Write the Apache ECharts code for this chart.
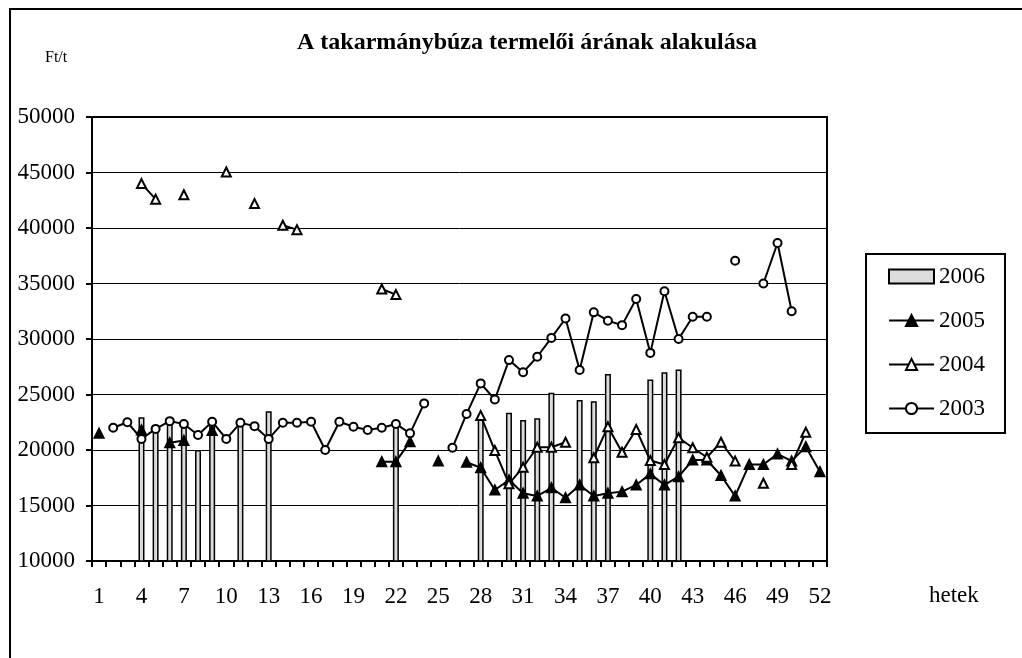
<!DOCTYPE html>
<html>
<head>
<meta charset="utf-8">
<script src="https://cdn.jsdelivr.net/npm/echarts@6/dist/echarts.min.js"></script>
<style>
  html, body { margin: 0; padding: 0; background: #fff; }
  #chart { width: 1022px; height: 658px; }
</style>
</head>
<body>
<div id="chart"></div>
<script>
const FONT = "'Liberation Serif', 'Times New Roman', serif";

const weeks = Array.from({ length: 52 }, (_, i) => String(i + 1));

// 2006 - bars
const y2006 = [
  null, null, null, 22950, 22000, 22500, 22400, 20000, 22300, null,
  22200, null, 23500, null, null, null, null, null, null, null,
  null, 22300, null, null, null, null, null, 23000, null, 23350,
  22700, 22850, 25150, null, 24500, 24400, 26850, null, null, 26350,
  27000, 27250, null, null, null, null, null, null, null, null,
  null, null
];

// 2005 - filled triangles
const y2005 = [
  21500, null, null, 21800, null, 20650, 20850, null, 21750, null,
  null, null, null, null, null, null, null, null, null, null,
  18950, 18950, 20750, null, 19000, null, 18900, 18400, 16400, 17300,
  16100, 15850, 16600, 15700, 16850, 15850, 16100, 16250, 16850, 17850,
  16850, 17600, 19100, 19100, 17700, 15850, 18700, 18700, 19650, 19000,
  20300, 18050
];

// 2004 - open triangles
const y2004 = [
  null, null, null, 44000, 42600, null, 43000, null, null, 45050,
  null, 42200, null, 40250, 39850, null, null, null, null, null,
  34500, 34000, null, null, null, null, null, 23100, 19950, 16950,
  18450, 20250, 20250, 20700, null, 19300, 22100, 19800, 21850, 19050,
  18700, 21100, 20200, 19350, 20700, 19000, null, 17000, null, 18700,
  21600, null
];

// 2003 - open circles
const y2003 = [
  null, 22000, 22500, 21000, 21900, 22600, 22350, 21350, 22550, 21000,
  22450, 22150, 21000, 22450, 22450, 22550, 20000, 22550, 22100, 21800,
  22000, 22350, 21500, 24200, null, 20200, 23250, 26000, 24550, 28100,
  27000, 28400, 30100, 31850, 27200, 32400, 31650, 31250, 33600, 28750,
  34300, 30000, 32000, 32000, null, 37050, null, 35000, 38650, 32500,
  null, null
];

const chart = echarts.init(document.getElementById("chart"));

function lineSeries(name, data, symbol, fill, size) {
  return {
    name: name,
    type: "line",
    data: data,
    symbol: symbol,
    symbolSize: size,
    showSymbol: true,
    showAllSymbol: true,
    connectNulls: false,
    animation: false,
    lineStyle: { color: "#000", width: 2 },
    itemStyle: { color: fill, borderColor: "#000", borderWidth: 2 },
    emphasis: { disabled: true },
    z: 3
  };
}

chart.setOption({
  animation: false,
  textStyle: { fontFamily: FONT, color: "#000" },
  grid: {
    left: 92, top: 117, right: 195, bottom: 97,
    show: true, borderColor: "#000", borderWidth: 2,
    containLabel: false
  },
  legend: {
    orient: "vertical",
    left: 866, top: 254,
    padding: [11, 20, 13, 22],
    itemGap: 21,
    itemWidth: 45,
    itemHeight: 14,
    borderColor: "#000",
    borderWidth: 2,
    textStyle: { fontFamily: FONT, fontSize: 23, color: "#000", lineHeight: 22 },
    data: [
      { name: "2006", icon: "rect" },
      "2005", "2004", "2003"
    ]
  },
  xAxis: {
    type: "category",
    data: weeks,
    boundaryGap: true,
    axisLine: { lineStyle: { color: "#000", width: 2 } },
    axisTick: { show: true, interval: 0, inside: false, length: 6, lineStyle: { color: "#000", width: 2 } },
    axisLabel: { interval: 2, margin: 24, fontSize: 23, fontFamily: FONT, color: "#000" },
    splitLine: { show: false }
  },
  yAxis: {
    type: "value",
    min: 10000, max: 50000, interval: 5000,
    axisLine: { show: true, lineStyle: { color: "#000", width: 2 } },
    axisTick: { show: true, length: 6, lineStyle: { color: "#000", width: 2 } },
    axisLabel: {
      margin: 17, fontSize: 23, fontFamily: FONT, color: "#000",
      formatter: (v) => String(v)
    },
    splitLine: { show: true, lineStyle: { color: "#000", width: 1 } }
  },
  graphic: [
    {
      type: "rect", silent: true, z: -1,
      shape: { x: 10, y: 9, width: 1030, height: 700 },
      style: { fill: "none", stroke: "#000", lineWidth: 2 }
    },
    {
      type: "text", left: 297, top: 31,
      style: {
        text: "A takarmánybúza termelői árának alakulása",
        font: "bold 24px " + FONT, fill: "#000"
      }
    },
    {
      type: "text", left: 45, top: 50,
      style: { text: "Ft/t", font: "16px " + FONT, fill: "#000" }
    },
    {
      type: "text", left: 929, top: 584,
      style: { text: "hetek", font: "23px " + FONT, fill: "#000" }
    }
  ],
  series: [
    {
      name: "2006",
      type: "bar",
      data: y2006,
      barWidth: 6,
      itemStyle: { color: "#dcdcdc", borderColor: "#000", borderWidth: 1.5 },
      emphasis: { disabled: true },
      z: 2
    },
    lineSeries("2005", y2005, "triangle", "#000", 9),
    lineSeries("2004", y2004, "triangle", "#fff", 9),
    lineSeries("2003", y2003, "circle", "#fff", 8)
  ]
});
</script>
</body>
</html>
